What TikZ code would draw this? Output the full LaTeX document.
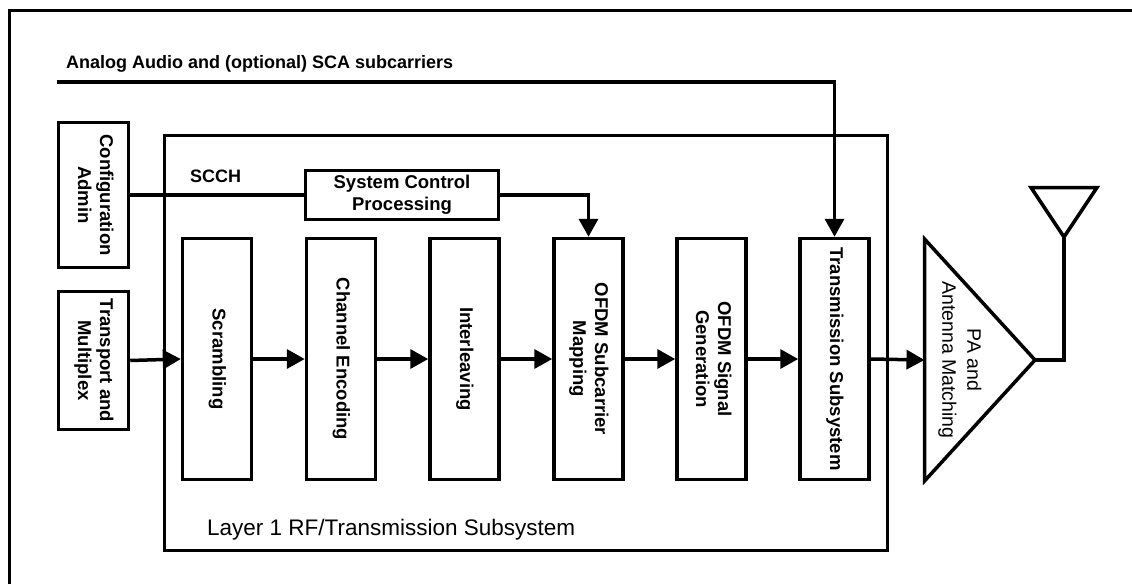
\documentclass[tikz,border=0pt]{standalone}
\usepackage{fontspec}
\setmainfont{Liberation Sans}
\usetikzlibrary{arrows.meta}
\newcommand\vtext[1]{\rotatebox{-90}{\begin{tabular}{@{}c@{}}#1\end{tabular}}}
\begin{document}
\begin{tikzpicture}[x=1pt,y=-1pt,
  wire/.style={line width=3.5pt},
  arr/.style={line width=3.5pt,-{Triangle[length=18pt,width=19pt]}},
  blk/.style={draw,line width=3.5pt,inner sep=0pt,minimum width=69pt,minimum height=241pt,
    font=\bfseries\fontsize{18.5}{22}\selectfont},
  sbox/.style={draw,line width=3.5pt,inner sep=0pt,font=\bfseries\fontsize{18.5}{22}\selectfont},
  lbl/.style={inner sep=0pt,font=\bfseries\fontsize{18}{22}\selectfont}]
\useasboundingbox (0,0) rectangle (1132,584);
% frame
\draw[line width=3pt] (9.5,584) -- (9.5,10.5) -- (1132,10.5);
% Layer 1 box
\node[draw,line width=3.5pt,minimum width=723pt,minimum height=415pt] (layer) at (526,343) {};
\node[anchor=base west,inner sep=0pt,font=\fontsize{22.5}{26}\selectfont] (layertxt) at (207,535) {Layer 1 RF/Transmission Subsystem};
% left boxes
\node[sbox,minimum width=70pt,minimum height=145pt] (config) at (93.5,195) {\vtext{Configuration\\Admin}};
\node[sbox,minimum width=70pt,minimum height=138pt] (transport) at (93.5,360.5) {\vtext{Transport and\\Multiplex}};
% system control
\node[sbox,minimum width=193pt,minimum height=49pt,align=center] (scp) at (402,195) {System Control\\Processing};
\node[lbl,anchor=base west] (scch) at (190,182) {SCCH};
% processing blocks
\node[blk] (scr) at (217,359) {\vtext{Scrambling}};
\node[blk] (chan) at (341,359) {\vtext{Channel Encoding}};
\node[blk] (intl) at (464.5,359) {\vtext{Interleaving}};
\node[blk] (map) at (588.5,359) {\vtext{OFDM Subcarrier\\Mapping}};
\node[blk] (sig) at (711.5,359) {\vtext{OFDM Signal\\Generation}};
\node[blk] (trans) at (834.5,359) {\vtext{Transmission Subsystem}};
% analog audio
\node[lbl,anchor=base west] (analog) at (66,68) {Analog Audio and (optional) SCA subcarriers};
\coordinate (astart) at (57,82);
\draw[arr] (astart) -| (trans.north);
% SCCH path
\draw[wire] (config.east) -- (scp.west);
\draw[arr] (scp.east) -| (map.north);
% chain
\draw[arr] (transport.east) -- (scr.west);
\draw[arr] (scr.east) -- (chan.west);
\draw[arr] (chan.east) -- (intl.west);
\draw[arr] (intl.east) -- (map.west);
\draw[arr] (map.east) -- (sig.west);
\draw[arr] (sig.east) -- (trans.west);
% PA triangle
\coordinate (patop) at (924.5,239);
\coordinate (pabot) at (924.5,481);
\coordinate (paw) at (924.5,360);
\coordinate (pap) at (1035,360);
\draw[wire,line join=miter] (patop) -- (pap) -- (pabot) -- cycle;
\node[inner sep=0pt,rotate=-90,align=center,font=\fontsize{19.5}{25}\selectfont] (patxt) at (960,360) {PA and\\Antenna Matching};
\draw[arr] (trans.east) -- (paw);
% antenna
\coordinate (antbase) at (1064,237);
\draw[wire] (pap) -| (antbase);
\draw[wire,line join=miter] (1031,187.5) -- (1097,187.5) -- (antbase) -- cycle;
\end{tikzpicture}
\end{document}
